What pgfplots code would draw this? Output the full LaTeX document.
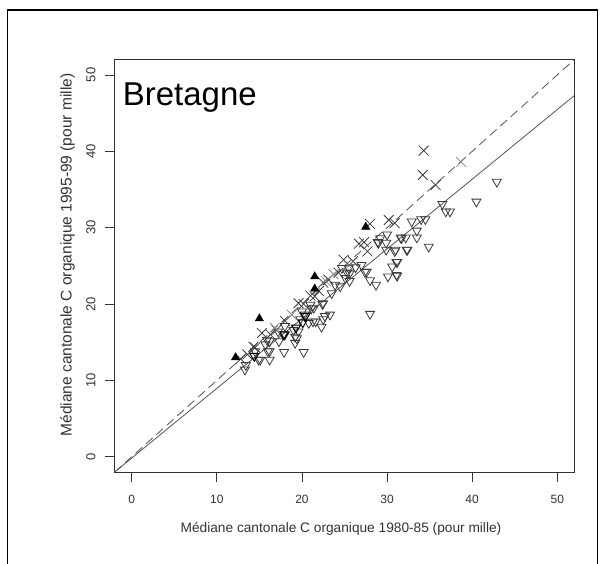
\documentclass[border=0pt]{standalone}
\usepackage{pgfplots}
\pgfplotsset{compat=1.18}
\usepackage{fontspec}
\setmainfont{Liberation Sans}
\definecolor{ax}{HTML}{333333}
\definecolor{mk}{HTML}{3A3A3A}
\definecolor{mkg}{HTML}{8C8C8C}
\definecolor{ln}{HTML}{555555}
\begin{document}
\begin{tikzpicture}[x=1pt,y=1pt]
\path[use as bounding box] (0,0) rectangle (605,563);
\draw[line width=1.6pt] (7.5,-3) -- (7.5,553) -- (597.5,553) -- (597.5,-3);
\begin{axis}[at={(114.7pt,91pt)}, anchor=south west, scale only axis,
  width=459.6pt, height=412.3pt,
  xmin=-2, xmax=52, ymin=-2, ymax=52,
  xtick={0,10,...,50}, ytick={0,10,...,50},
  tick pos=left, tick align=outside, major tick length=10pt,
  tick style={ax, line width=0.8pt},
  axis line style={ax, line width=0.8pt},
  /pgf/number format/assume math mode=true,
  xticklabel style={font=\fontsize{12}{13}\selectfont, text=ax, anchor=center, yshift=-17.6pt},
  yticklabel style={font=\fontsize{13}{14}\selectfont, text=ax, xshift=-13.7pt, rotate=90, anchor=center},
  xlabel={Médiane cantonale C organique 1980-85 (pour mille)},
  ylabel={Médiane cantonale C organique 1995-99 (pour mille)},
  xlabel style={font=\fontsize{13.7}{15}\selectfont, text=ax, at={(axis description cs:0.4924,-0.1477)}, anchor=base, inner sep=0pt},
  ylabel style={font=\fontsize{15.5}{17}\selectfont, text=ax, at={(axis description cs:-0.0936,0.5263)}, rotate=0, anchor=base, inner sep=0pt},
  clip=false,
]
% identity line and regression line
\addplot[ln, line width=0.8pt, dash pattern=on 9pt off 5pt] coordinates {(-2,-2) (52,52)};
\addplot[ln, line width=0.8pt] coordinates {(-2,-2) (52,47.3)};
% open down-pointing triangles
\addplot[only marks, mark=triangle, mark size=5.2pt, mark options={rotate=180, draw=mk, line width=0.8pt}] coordinates {
(42.9,36.0) (40.5,33.4) (36.5,33.1) (36.9,32.1) (37.4,32.1) (34.9,27.5)
(34.5,31.1) (34.0,31.1) (32.9,30.8) (33.5,29.6) (33.5,28.7) (32.2,28.7)
(31.6,28.7) (32.4,27.1) (30.0,29.1) (29.9,28.0) (28.9,28.1) (29.9,27.1)
(31.0,27.1) (31.2,25.5) (30.6,24.9) (30.1,23.6) (31.2,23.7) (28.0,18.7)
(28.7,22.5) (28.0,23.1) (27.4,24.2) (27.0,25.1) (26.3,24.8) (25.5,24.7)
(25.3,24.1) (25.6,23.0) (24.5,22.3) (23.5,21.4) (23.3,18.6) (22.7,18.4)
(22.4,20.0) (21.4,19.5) (21.6,17.7) (20.8,17.5) (21.0,19.9) (20.2,13.7)
(17.9,13.7) (20.3,18.6) (19.8,18.0) (19.6,16.4) (19.2,15.7) (19.2,14.9)
(18.0,17.1) (18.0,16.0) (17.3,15.1) (16.2,13.8) (16.2,12.7) (15.7,14.7)
(14.9,12.7) (14.5,13.8) (13.3,11.4) (13.4,12.0) (15.9,15.3) (17.2,16.4)
(20.0,19.0) (21.1,19.4) (22.5,18.0) (21.3,17.7) (19.0,16.6) (19.4,15.5)
(17.8,16.0) (16.2,15.1) (16.0,13.8) (15.1,12.7) (22.3,17.0) (29.2,28.6)
(31.7,28.6) (29.0,28.0) (30.9,26.9) (32.3,27.1) (31.1,25.5) (31.1,23.8)
(27.6,24.2) (25.1,23.4) (24.7,24.7) (25.6,24.0) (23.9,22.5) (22.5,20.1)
};
% darker overlapping triangles
\addplot[only marks, mark=triangle, mark size=5.2pt, mark options={rotate=180, draw=black, line width=1pt}] coordinates {
(20.4,18.4) (20.1,17.6) (17.9,16.0) (14.4,13.2) (19.3,16.9)
};
% crosses
\addplot[only marks, mark=x, mark size=7pt, mark options={draw=mk, line width=0.8pt}] coordinates {
(34.3,40.1) (34.2,36.9) (35.7,35.6) (30.2,31.0) (30.9,30.6) (28.0,30.5)
(26.7,27.9) (27.3,28.1) (27.7,26.9) (24.9,25.8) (24.3,24.1) (23.1,23.2)
(22.5,22.8) (19.6,20.1) (21.0,21.1) (15.3,16.2) (17.0,16.6) (18.0,17.8)
(14.3,14.4) (12.8,12.8) (13.6,13.4) (21.5,21.0) (20.2,20.0) (16.3,16.0)
(26.0,25.6) (14.5,14.3) (22.0,21.7)
};
\addplot[only marks, mark=x, mark size=7pt, mark options={draw=mkg, line width=0.8pt}] coordinates {
(38.7,38.6) (25.5,25.0) (23.7,23.9) (22.8,23.0) (18.8,18.6) (16.8,16.9)
};
% filled up-pointing triangles
\addplot[only marks, mark=triangle*, mark size=4.8pt, mark options={draw=black, fill=black}] coordinates {
(12.2,13.0) (15.0,18.1) (21.5,23.6) (21.5,22.0) (27.5,30.1)
};
\node[anchor=base west, inner sep=0pt, font=\fontsize{33}{36}\selectfont] at (axis cs:-1.07,45.94) {Bretagne};
\end{axis}
\end{tikzpicture}
\end{document}
